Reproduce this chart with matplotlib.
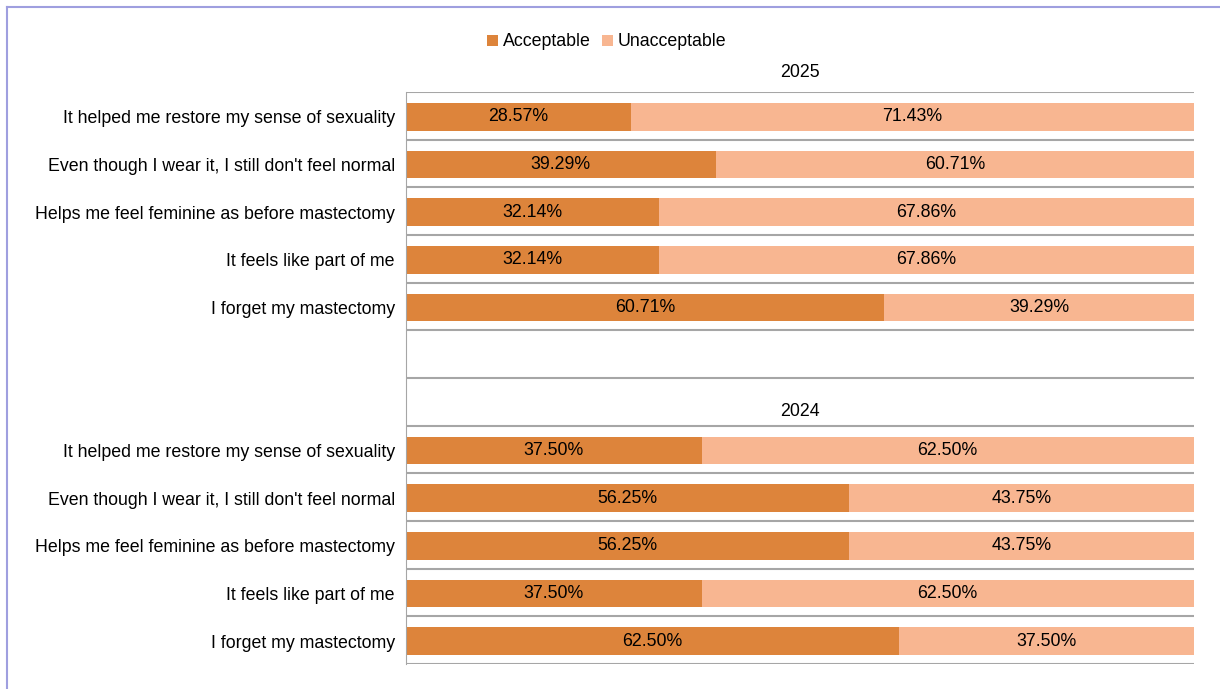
import numpy as np
import matplotlib.pyplot as plt
from matplotlib.lines import Line2D

plt.rcParams['font.family'] = ['Liberation Sans', 'DejaVu Sans']

categories = ["It helped me restore my sense of sexuality",
              "Even though I wear it, I still don't feel normal",
              "Helps me feel feminine as before mastectomy",
              "It feels like part of me",
              "I forget my mastectomy"]
acc_2025 = [28.57, 39.29, 32.14, 32.14, 60.71]
unacc_2025 = [71.43, 60.71, 67.86, 67.86, 39.29]
acc_2024 = [37.50, 56.25, 56.25, 37.50, 62.50]
unacc_2024 = [62.50, 43.75, 43.75, 62.50, 37.50]

c_acc = "#DD843B"
c_unacc = "#F8B691"
fs = 12.8

fig = plt.figure(figsize=(12.2, 6.89), dpi=100)
ax = fig.add_axes([406/1220, 1-664/689, (1194-406)/1220, (664-92)/689])

def draw_block(start, acc, unacc):
    y = np.arange(len(acc)) + start + 0.52
    ax.barh(y, acc, height=0.58, color=c_acc, label="Acceptable")
    ax.barh(y, unacc, left=acc, height=0.58, color=c_unacc, label="Unacceptable")
    for yi, a, u in zip(y, acc, unacc):
        ax.text(a/2, yi, f"{a:.2f}%", ha="center", va="center", fontsize=fs)
        ax.text(a + u/2, yi, f"{u:.2f}%", ha="center", va="center", fontsize=fs)
    return y

y25 = draw_block(0, acc_2025, unacc_2025)
handles = ax.get_legend_handles_labels()
y24 = draw_block(7, acc_2024, unacc_2024)

ax.set_xlim(0, 100)
ax.set_ylim(12, 0)
for g in range(13):
    ax.axhline(g, color="#A6A6A6", lw=1.5, zorder=0)

ax.set_yticks(list(y25) + list(y24))
ax.set_yticklabels(categories + categories, fontsize=fs)
ax.tick_params(axis="y", length=0, pad=8)
ax.set_xticks([])
for s in ["top", "right", "bottom"]:
    ax.spines[s].set_visible(False)
ax.spines["left"].set_color("#A6A6A6")

ax.text(50, -0.4, "2025", ha="center", va="center", fontsize=fs)
ax.text(50, 6.7, "2024", ha="center", va="center", fontsize=fs)

fig.legend(handles[0][:2], handles[1][:2], loc="center", bbox_to_anchor=(607/1220, 1-42/689),
           ncol=2, frameon=False, fontsize=fs, handlelength=0.6, handleheight=0.6,
           handletextpad=0.3, columnspacing=0.6)

# purple frame at left and top
fig.add_artist(Line2D([7/1220, 7/1220], [0, 1-7/689], color="#9F9FDF", lw=1.5, transform=fig.transFigure))
fig.add_artist(Line2D([7/1220, 1], [1-7/689, 1-7/689], color="#9F9FDF", lw=1.5, transform=fig.transFigure))

fig.savefig("out.png", dpi=100)
